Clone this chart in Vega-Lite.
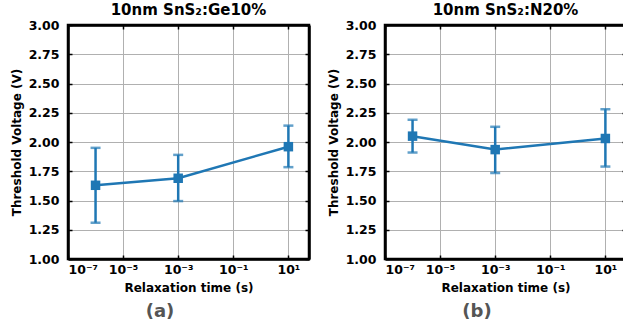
{
  "$schema": "https://vega.github.io/schema/vega-lite/v6.json",
  "padding": {"left": 8, "top": 1, "right": 0, "bottom": 0},
  "background": "white",
  "datasets": {
    "a": [
      {"t": 1e-6, "v": 1.63, "lo": 1.31, "hi": 1.95},
      {"t": 1e-3, "v": 1.69, "lo": 1.495, "hi": 1.89},
      {"t": 10, "v": 1.96, "lo": 1.785, "hi": 2.14}
    ],
    "b": [
      {"t": 1e-6, "v": 2.05, "lo": 1.91, "hi": 2.19},
      {"t": 1e-3, "v": 1.935, "lo": 1.735, "hi": 2.13},
      {"t": 10, "v": 2.03, "lo": 1.79, "hi": 2.28}
    ]
  },
  "config": {
    "font": "DejaVu Sans",
    "view": {"stroke": "black", "strokeWidth": 2.5},
    "axis": {
      "labelFont": "DejaVu Sans", "labelFontWeight": "bold", "labelFontSize": 12.5, "labelColor": "black",
      "titleFont": "DejaVu Sans", "titleFontWeight": "bold", "titleFontSize": 12, "titleColor": "black",
      "domain": true, "domainColor": "black", "domainWidth": 2.5, "tickColor": "black", "tickWidth": 1.5, "tickSize": -4,
      "gridColor": "#b0b0b0", "gridWidth": 1
    },
    "title": {"font": "DejaVu Sans", "fontWeight": "bold"},
    "concat": {"spacing": 14}
  },
  "hconcat": [
    {
      "title": {"text": "(a)", "orient": "bottom", "anchor": "middle", "fontSize": 18, "color": "#555555", "offset": 8},
      "vconcat": [
        {
          "width": 241, "height": 234,
          "data": {"name": "a"},
          "title": {"text": "10nm SnS₂:Ge10%", "fontSize": 15, "offset": 1},
          "layer": [
            {
              "mark": {"type": "rule", "color": "#1f77b4", "strokeWidth": 2.5},
              "encoding": {
                "x": {"field": "t", "type": "quantitative", "scale": {"type": "log", "domain": [1e-7, 56], "nice": false},
                  "axis": {"title": "Relaxation time (s)", "values": [1e-7, 1e-5, 1e-3, 1e-1, 10], "labelPadding": 8, "titlePadding": 7,
                    "gridOpacity": {"condition": {"test": "datum.value < 2e-7", "value": 0}, "value": 1},
                    "labelExpr": "'10' + (datum.value < 1e-6 ? '⁻⁷' : datum.value < 1e-4 ? '⁻⁵' : datum.value < 1e-2 ? '⁻³' : datum.value < 1 ? '⁻¹' : '¹')"}},
                "y": {"field": "lo", "type": "quantitative", "scale": {"domain": [1, 3], "nice": false},
                  "axis": {"title": "Threshold Voltage (V)", "values": [1, 1.25, 1.5, 1.75, 2, 2.25, 2.5, 2.75, 3], "format": ".2f", "labelPadding": 13, "titlePadding": 5,
                    "gridOpacity": {"condition": {"test": "datum.value < 1.01 || datum.value > 2.99", "value": 0}, "value": 1}}},
                "y2": {"field": "hi"}
              }
            },
            {
              "mark": {"type": "tick", "orient": "horizontal", "color": "#1f77b4", "size": 10, "thickness": 2.5},
              "encoding": {
                "x": {"field": "t", "type": "quantitative", "axis": {"orient": "top", "labels": false, "title": null, "grid": false, "values": [1e-7, 1e-5, 1e-3, 1e-1, 10]}},
                "y": {"field": "lo", "type": "quantitative", "axis": {"orient": "right", "labels": false, "title": null, "grid": false, "values": [1, 1.25, 1.5, 1.75, 2, 2.25, 2.5, 2.75, 3]}}
              }
            },
            {
              "mark": {"type": "tick", "orient": "horizontal", "color": "#1f77b4", "size": 10, "thickness": 2.5},
              "encoding": {
                "x": {"field": "t", "type": "quantitative", "axis": null},
                "y": {"field": "hi", "type": "quantitative", "axis": null}
              }
            },
            {
              "mark": {"type": "line", "color": "#1f77b4", "strokeWidth": 2.5},
              "encoding": {
                "x": {"field": "t", "type": "quantitative", "axis": null},
                "y": {"field": "v", "type": "quantitative", "axis": null}
              }
            },
            {
              "mark": {"type": "point", "shape": "square", "filled": true, "color": "#1f77b4", "size": 90, "opacity": 1},
              "encoding": {
                "x": {"field": "t", "type": "quantitative", "axis": null},
                "y": {"field": "v", "type": "quantitative", "axis": null}
              }
            }
          ],
          "resolve": {"axis": {"x": "independent", "y": "independent"}}
        }
      ]
    },
    {
      "title": {"text": "(b)", "orient": "bottom", "anchor": "middle", "fontSize": 18, "color": "#555555", "offset": 8},
      "vconcat": [
        {
          "width": 241, "height": 234,
          "data": {"name": "b"},
          "title": {"text": "10nm SnS₂:N20%", "fontSize": 15, "offset": 1},
          "layer": [
            {
              "mark": {"type": "rule", "color": "#1f77b4", "strokeWidth": 2.5},
              "encoding": {
                "x": {"field": "t", "type": "quantitative", "scale": {"type": "log", "domain": [1e-7, 56], "nice": false},
                  "axis": {"title": "Relaxation time (s)", "values": [1e-7, 1e-5, 1e-3, 1e-1, 10], "labelPadding": 8, "titlePadding": 7,
                    "gridOpacity": {"condition": {"test": "datum.value < 2e-7", "value": 0}, "value": 1},
                    "labelExpr": "'10' + (datum.value < 1e-6 ? '⁻⁷' : datum.value < 1e-4 ? '⁻⁵' : datum.value < 1e-2 ? '⁻³' : datum.value < 1 ? '⁻¹' : '¹')"}},
                "y": {"field": "lo", "type": "quantitative", "scale": {"domain": [1, 3], "nice": false},
                  "axis": {"title": "Threshold Voltage (V)", "values": [1, 1.25, 1.5, 1.75, 2, 2.25, 2.5, 2.75, 3], "format": ".2f", "labelPadding": 13, "titlePadding": 5,
                    "gridOpacity": {"condition": {"test": "datum.value < 1.01 || datum.value > 2.99", "value": 0}, "value": 1}}},
                "y2": {"field": "hi"}
              }
            },
            {
              "mark": {"type": "tick", "orient": "horizontal", "color": "#1f77b4", "size": 10, "thickness": 2.5},
              "encoding": {
                "x": {"field": "t", "type": "quantitative", "axis": {"orient": "top", "labels": false, "title": null, "grid": false, "values": [1e-7, 1e-5, 1e-3, 1e-1, 10]}},
                "y": {"field": "lo", "type": "quantitative", "axis": {"orient": "right", "labels": false, "title": null, "grid": false, "values": [1, 1.25, 1.5, 1.75, 2, 2.25, 2.5, 2.75, 3]}}
              }
            },
            {
              "mark": {"type": "tick", "orient": "horizontal", "color": "#1f77b4", "size": 10, "thickness": 2.5},
              "encoding": {
                "x": {"field": "t", "type": "quantitative", "axis": null},
                "y": {"field": "hi", "type": "quantitative", "axis": null}
              }
            },
            {
              "mark": {"type": "line", "color": "#1f77b4", "strokeWidth": 2.5},
              "encoding": {
                "x": {"field": "t", "type": "quantitative", "axis": null},
                "y": {"field": "v", "type": "quantitative", "axis": null}
              }
            },
            {
              "mark": {"type": "point", "shape": "square", "filled": true, "color": "#1f77b4", "size": 90, "opacity": 1},
              "encoding": {
                "x": {"field": "t", "type": "quantitative", "axis": null},
                "y": {"field": "v", "type": "quantitative", "axis": null}
              }
            }
          ],
          "resolve": {"axis": {"x": "independent", "y": "independent"}}
        }
      ]
    }
  ]
}
